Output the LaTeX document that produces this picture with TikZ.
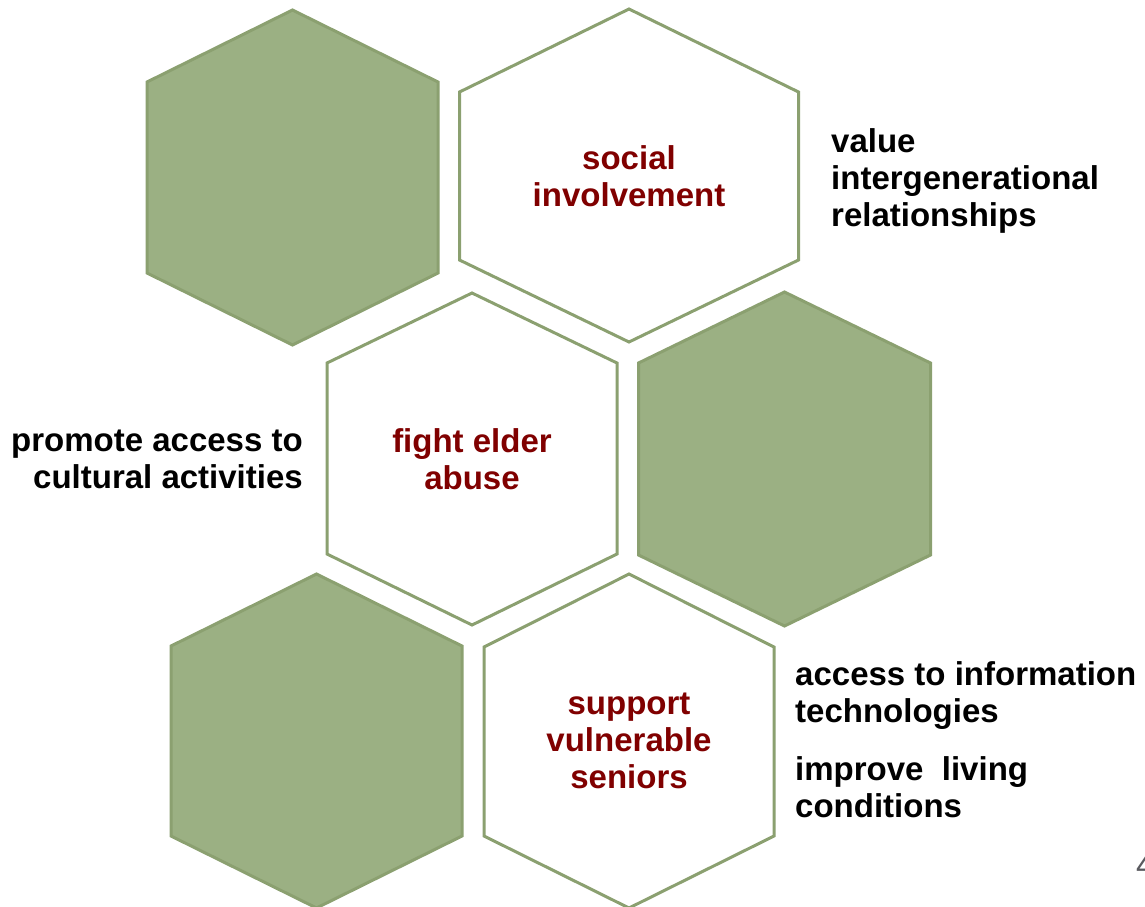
\documentclass[tikz,border=0pt]{standalone}
\usepackage{fontspec}
\setmainfont{Liberation Sans}
\definecolor{hexfill}{RGB}{155,176,131}
\definecolor{hexline}{RGB}{139,160,112}
\definecolor{darkred}{RGB}{128,0,0}
\definecolor{pagegray}{RGB}{90,90,95}
\begin{document}
\begin{tikzpicture}[x=1pt,y=-1pt,
  greenhex/.style={fill=hexfill,draw=hexline,line width=3pt,line join=miter},
  whitehex/.style={fill=white,draw=hexline,line width=3pt,line join=miter},
  keytext/.style={font=\bfseries\fontsize{33}{37}\selectfont,text=darkred,align=center,inner sep=0pt},
  sidetext/.style={font=\bfseries\fontsize{33}{37}\selectfont,text=black,inner sep=0pt}]
\useasboundingbox (0,0) rectangle (1145,906);
% hexagon 1 (green, top left)
\draw[greenhex] (292.5,10) -- (438,82) -- (438,273) -- (292.5,345) -- (147,273) -- (147,82) -- cycle;
% hexagon 2 (white, top)
\draw[whitehex] (629,9) -- (798.5,92) -- (798.5,260) -- (629,342) -- (459.5,260) -- (459.5,92) -- cycle;
% hexagon 3 (white, middle)
\draw[whitehex] (472,293) -- (617,363) -- (617,554) -- (472,625) -- (327,554) -- (327,363) -- cycle;
% hexagon 4 (green, middle right)
\draw[greenhex] (784.5,292) -- (930.5,363) -- (930.5,555) -- (784.5,626) -- (638.5,555) -- (638.5,363) -- cycle;
% hexagon 5 (green, bottom left)
\draw[greenhex] (316.5,574) -- (462,646) -- (462,836) -- (316.5,908) -- (171,836) -- (171,646) -- cycle;
% hexagon 6 (white, bottom)
\draw[whitehex] (629,574) -- (774,647) -- (774,836) -- (629,908) -- (484,836) -- (484,647) -- cycle;

\node[keytext] (soc) at (629,176) {social\\involvement};
\node[keytext] (fight) at (472,459) {fight elder\\abuse};
\node[keytext] (sup) at (629,741) {support\\vulnerable\\seniors};

\node[sidetext,align=left,anchor=west] (val) at (831,181) {value\\intergenerational\\relationships};
\node[sidetext,align=right,anchor=east] (prom) at (303,459) {promote access to\\cultural activities};
\node[sidetext,align=left,anchor=west] (acc) at (795,696) {access to information\\technologies};
\node[sidetext,align=left,anchor=west] (imp) at (795,787) {improve\ \ living\\conditions};

\node[font=\fontsize{33}{37}\selectfont,text=pagegray,inner sep=0pt,anchor=base west] (page) at (1136,876) {4};
\end{tikzpicture}
\end{document}
